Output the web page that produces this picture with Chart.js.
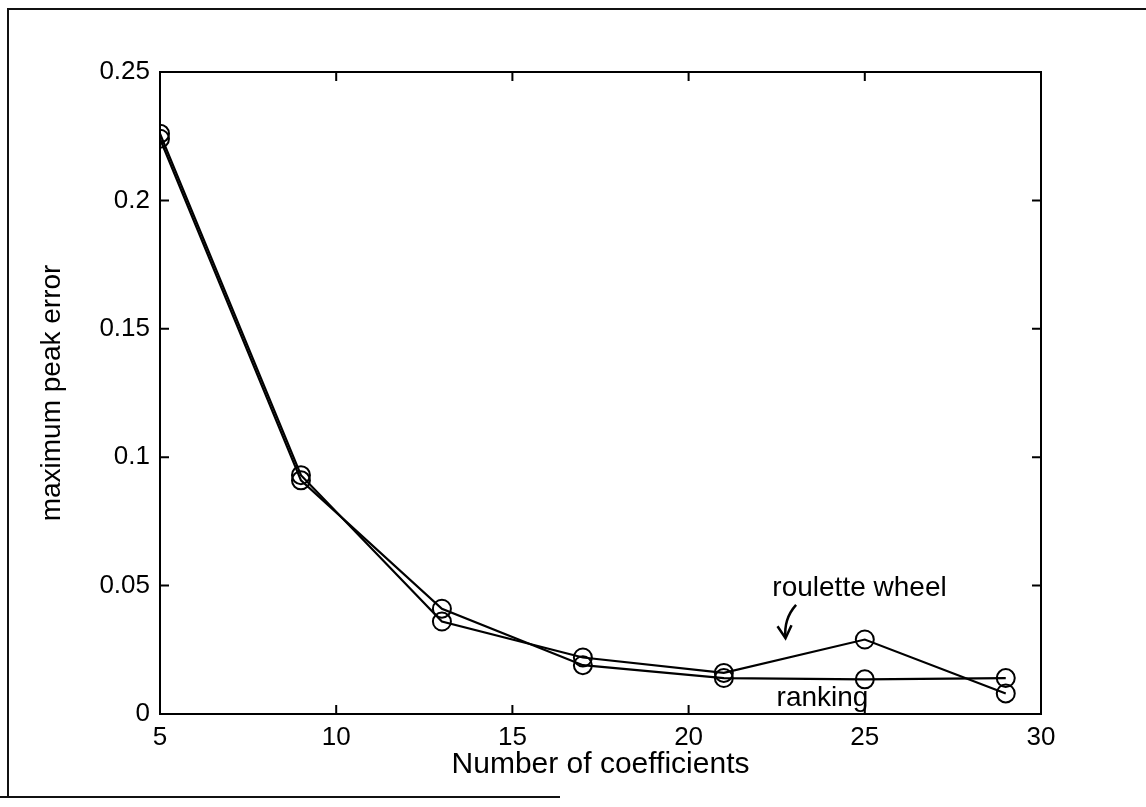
<!DOCTYPE html>
<html>
<head>
<meta charset="utf-8">
<script src="https://cdn.jsdelivr.net/npm/chart.js@4/dist/chart.umd.min.js"></script>
<style>
  html, body { margin: 0; padding: 0; background: #fff; }
  #wrap { position: relative; width: 1146px; height: 807px; }
  .frame { position: absolute; background: #111; }
</style>
</head>
<body>
<div id="wrap">
  <canvas id="chart" width="1146" height="807"></canvas>
  <!-- scanned page frame -->
  <div class="frame" style="left:7px;top:8px;width:1139px;height:2px;"></div>
  <div class="frame" style="left:7px;top:8px;width:2px;height:790px;"></div>
  <div class="frame" style="left:0;top:796px;width:560px;height:2px;"></div>
</div>
<script>
// data
const coefficients = [5, 9, 13, 17, 21, 25, 29];
const rouletteWheel = [0.226, 0.093, 0.036, 0.022, 0.016, 0.029, 0.008];
const ranking = [0.224, 0.091, 0.041, 0.019, 0.014, 0.0135, 0.014];

const xTicks = [5, 10, 15, 20, 25, 30];
const yTicks = [0, 0.05, 0.1, 0.15, 0.2, 0.25];

const FONT = '"Liberation Sans", Arial, sans-serif';

function toPoints(ys) {
    return coefficients.map((x, i) => ({ x: x, y: ys[i] }));
}

const lineStyle = {
    borderColor: '#000',
    borderWidth: 2.2,
    pointStyle: 'circle',
    pointRadius: 9,
    pointBorderWidth: 2,
    pointBorderColor: '#000',
    pointBackgroundColor: 'rgba(0,0,0,0)',
    fill: false,
    tension: 0
};

// box, inward ticks and text labels (MATLAB look)
const matlabAxes = {
    id: 'matlabAxes',
    afterDraw(chart) {
        const { ctx, chartArea: a, scales: { x, y } } = chart;
        ctx.save();
        ctx.strokeStyle = '#000';
        ctx.lineWidth = 2;
        ctx.strokeRect(a.left, a.top, a.right - a.left, a.bottom - a.top);

        const len = 9;
        ctx.beginPath();
        xTicks.forEach(v => {
            const px = x.getPixelForValue(v);
            ctx.moveTo(px, a.bottom); ctx.lineTo(px, a.bottom - len);
            ctx.moveTo(px, a.top); ctx.lineTo(px, a.top + len);
        });
        yTicks.forEach(v => {
            const py = y.getPixelForValue(v);
            ctx.moveTo(a.left, py); ctx.lineTo(a.left + len, py);
            ctx.moveTo(a.right, py); ctx.lineTo(a.right - len, py);
        });
        ctx.stroke();

        // y axis label
        ctx.fillStyle = '#000';
        ctx.font = '28px ' + FONT;
        ctx.textAlign = 'center';
        ctx.textBaseline = 'middle';
        ctx.translate(52, (a.top + a.bottom) / 2);
        ctx.rotate(-Math.PI / 2);
        ctx.fillText('maximum peak error', 0, 0);
        ctx.restore();

        // annotations
        ctx.save();
        ctx.fillStyle = '#000';
        ctx.font = '28px ' + FONT;
        ctx.textAlign = 'center';
        ctx.textBaseline = 'middle';
        ctx.fillText('roulette wheel', x.getPixelForValue(24.85), y.getPixelForValue(0.049));
        ctx.fillText('ranking', x.getPixelForValue(23.8), y.getPixelForValue(0.006));

        // curved arrow pointing at the roulette wheel line
        const x0 = x.getPixelForValue(23.05), y0 = y.getPixelForValue(0.0425);
        const x1 = x.getPixelForValue(22.75), y1 = y.getPixelForValue(0.0295);
        ctx.strokeStyle = '#000';
        ctx.lineWidth = 2.5;
        ctx.beginPath();
        ctx.moveTo(x0, y0);
        ctx.quadraticCurveTo(x1 - 2, y0 + 14, x1, y1);
        ctx.stroke();
        ctx.beginPath();
        ctx.moveTo(x1 - 8, y1 - 12);
        ctx.lineTo(x1, y1);
        ctx.lineTo(x1 + 6, y1 - 13);
        ctx.stroke();
        ctx.restore();
    }
};

new Chart(document.getElementById('chart'), {
    type: 'line',
    data: {
        datasets: [
            Object.assign({ label: 'roulette wheel', data: toPoints(rouletteWheel) }, lineStyle),
            Object.assign({ label: 'ranking', data: toPoints(ranking) }, lineStyle)
        ]
    },
    options: {
        animation: false,
        responsive: false,
        layout: { padding: { left: 20, right: 105, top: 72, bottom: 24 } },
        plugins: {
            legend: { display: false },
            tooltip: { enabled: false }
        },
        scales: {
            x: {
                type: 'linear',
                min: 5,
                max: 30,
                afterFit: s => { s.height = 69; },
                afterBuildTicks: s => { s.ticks = xTicks.map(v => ({ value: v })); },
                grid: { display: false, drawTicks: false },
                border: { display: false },
                ticks: { color: '#000', padding: 8, font: { family: FONT, size: 26 } },
                title: {
                    display: true,
                    text: 'Number of coefficients',
                    color: '#000',
                    padding: { top: 0, bottom: 0 },
                    font: { family: FONT, size: 30 }
                }
            },
            y: {
                min: 0,
                max: 0.25,
                afterFit: s => { s.width = 140; },
                afterBuildTicks: s => { s.ticks = yTicks.map(v => ({ value: v })); },
                grid: { display: false, drawTicks: false },
                border: { display: false },
                ticks: {
                    color: '#000',
                    padding: 10,
                    font: { family: FONT, size: 26 },
                    callback: v => String(v)
                }
            }
        }
    },
    plugins: [matlabAxes]
});
</script>
</body>
</html>
